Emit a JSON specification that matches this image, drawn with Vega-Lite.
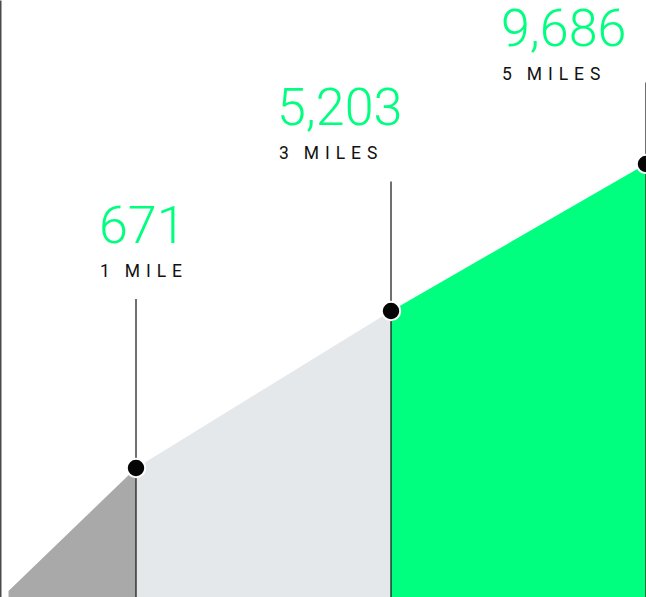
{
  "$schema": "https://vega.github.io/schema/vega-lite/v6.json",
  "width": 646,
  "height": 597,
  "autosize": {"type": "none"},
  "padding": 0,
  "background": "#ffffff",
  "config": {"view": {"stroke": null}},
  "datasets": {
    "area": [
      {"mile": 0, "height": 6, "segment": "0-1"},
      {"mile": 1, "height": 129, "segment": "0-1"},
      {"mile": 1, "height": 129, "segment": "1-3"},
      {"mile": 3, "height": 286, "segment": "1-3"},
      {"mile": 3, "height": 286, "segment": "3-5"},
      {"mile": 5, "height": 433, "segment": "3-5"}
    ],
    "pts": [
      {"mile": 1, "height": 129, "num": "671", "label": "1\u2002\u2004M\u2004I\u2004L\u2004E"},
      {"mile": 3, "height": 286, "num": "5,203", "label": "3\u2002\u2004M\u2004I\u2004L\u2004E\u2004S"},
      {"mile": 5, "height": 433, "num": "9,686", "label": "5\u2002\u2004M\u2004I\u2004L\u2004E\u2004S"}
    ]
  },
  "encoding": {
    "x": {"field": "mile", "type": "quantitative", "scale": {"domain": [-0.0667, 5], "nice": false, "zero": false}, "axis": null},
    "y": {"field": "height", "type": "quantitative", "stack": null, "scale": {"domain": [0, 597], "nice": false}, "axis": {"domain": true, "domainColor": "#4a4a4a", "domainWidth": 2, "labels": false, "ticks": false, "grid": false, "title": null}}
  },
  "layer": [
    {
      "data": {"name": "area"},
      "mark": {"type": "area", "clip": true},
      "encoding": {
        "color": {"field": "segment", "type": "nominal", "scale": {"domain": ["0-1", "1-3", "3-5"], "range": ["#a9a9aa", "#e5e8eb", "#00ff7f"]}, "legend": null}
      }
    },
    {
      "data": {"name": "pts"},
      "transform": [{"filter": "datum.mile === 1"}],
      "mark": {"type": "rule", "color": "#111111", "strokeWidth": 1.2, "yOffset": -169},
      "encoding": {"y2": {"datum": 0}}
    },
    {
      "data": {"name": "pts"},
      "transform": [{"filter": "datum.mile === 3"}],
      "mark": {"type": "rule", "color": "#111111", "strokeWidth": 1.2, "yOffset": -129.5},
      "encoding": {"y2": {"datum": 0}}
    },
    {
      "data": {"name": "pts"},
      "transform": [{"filter": "datum.mile === 5"}],
      "mark": {"type": "rule", "color": "#111111", "strokeWidth": 1.2, "yOffset": -81.5},
      "encoding": {"y2": {"datum": 0}}
    },
    {
      "data": {"name": "pts"},
      "mark": {"type": "circle", "size": 340, "color": "#050505", "opacity": 1, "stroke": "#ffffff", "strokeWidth": 2}
    },
    {
      "data": {"name": "pts"},
      "transform": [{"filter": "datum.mile === 1"}],
      "mark": {"type": "text", "font": "Roboto", "fontWeight": 300, "fontSize": 52, "color": "#00ff7f", "align": "left", "baseline": "alphabetic", "dx": -37, "dy": -225},
      "encoding": {"text": {"field": "num"}}
    },
    {
      "data": {"name": "pts"},
      "transform": [{"filter": "datum.mile === 3"}],
      "mark": {"type": "text", "font": "Roboto", "fontWeight": 300, "fontSize": 52, "color": "#00ff7f", "align": "left", "baseline": "alphabetic", "dx": -114, "dy": -186},
      "encoding": {"text": {"field": "num"}}
    },
    {
      "data": {"name": "pts"},
      "transform": [{"filter": "datum.mile === 5"}],
      "mark": {"type": "text", "font": "Roboto", "fontWeight": 300, "fontSize": 52, "color": "#00ff7f", "align": "left", "baseline": "alphabetic", "dx": -145, "dy": -118.5},
      "encoding": {"text": {"field": "num"}}
    },
    {
      "data": {"name": "pts"},
      "transform": [{"filter": "datum.mile === 1"}],
      "mark": {"type": "text", "font": "Roboto", "fontSize": 17.5, "color": "#111111", "align": "left", "baseline": "alphabetic", "dx": -36, "dy": -191},
      "encoding": {"text": {"field": "label"}}
    },
    {
      "data": {"name": "pts"},
      "transform": [{"filter": "datum.mile === 3"}],
      "mark": {"type": "text", "font": "Roboto", "fontSize": 17.5, "color": "#111111", "align": "left", "baseline": "alphabetic", "dx": -112, "dy": -152},
      "encoding": {"text": {"field": "label"}}
    },
    {
      "data": {"name": "pts"},
      "transform": [{"filter": "datum.mile === 5"}],
      "mark": {"type": "text", "font": "Roboto", "fontSize": 17.5, "color": "#111111", "align": "left", "baseline": "alphabetic", "dx": -144, "dy": -84.5},
      "encoding": {"text": {"field": "label"}}
    }
  ]
}
